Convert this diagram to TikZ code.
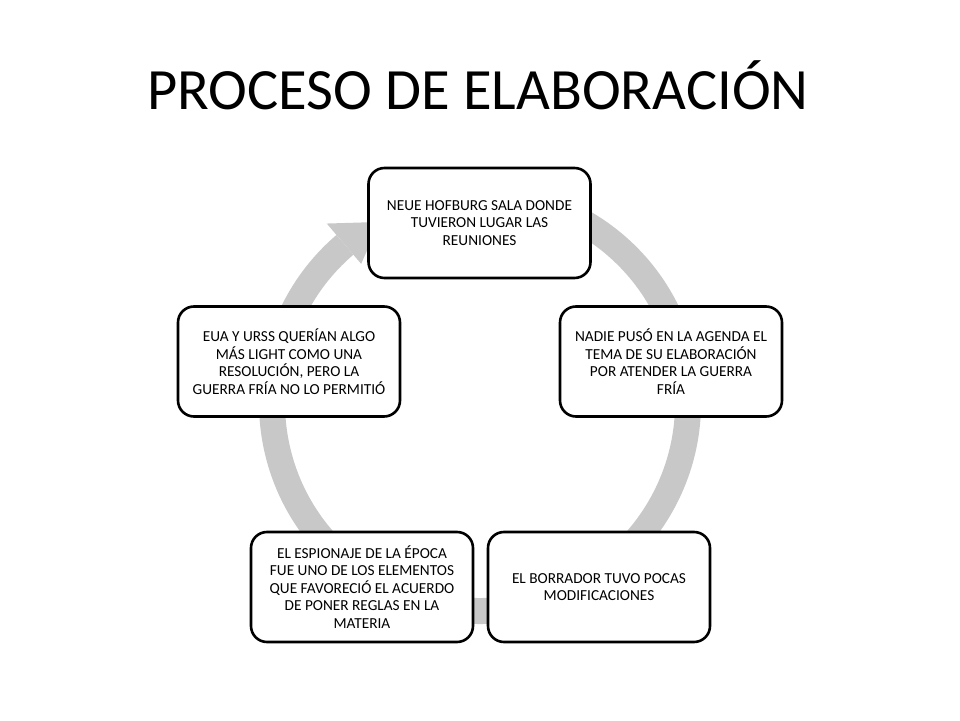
\documentclass[tikz,border=0pt]{standalone}
\usepackage{fontspec}
\setmainfont{Carlito}
\usetikzlibrary{calc}
\begin{document}
\begin{tikzpicture}[x=1pt,y=1pt,
  stepbox/.style={draw=black, line width=2.6pt, rounded corners=16pt, fill=white,
    minimum width=222pt, minimum height=110pt, inner sep=2pt, align=center,
    font=\fontsize{15.3}{17.5}\selectfont},
  ringline/.style={draw=ringgray, line width=26pt},
  ringhead/.style={fill=ringgray, draw=none}]
\definecolor{ringgray}{RGB}{200,200,200}
\useasboundingbox (0,0) rectangle (960,720);
\coordinate (c) at (480,317);
% ring
\draw[ringline] ($(c)+(100:208)$) arc[start angle=100, end angle=-229.5, radius=208];
\fill[ringhead] ($(c)+(130.5:236)$) -- ($(c)+(119:207)$) -- ($(c)+(130.5:183)$) -- cycle;
% title
\node[font=\fontsize{58.5}{62}\selectfont, anchor=base] (title) at (478,610) {PROCESO DE ELABORACIÓN};
% boxes
\node[stepbox] (b1) at (479.5,497) {NEUE HOFBURG SALA DONDE\\TUVIERON LUGAR LAS\\REUNIONES};
\node[stepbox] (b2) at (671,358.5) {NADIE PUSÓ EN LA AGENDA EL\\TEMA DE SU ELABORACIÓN\\POR ATENDER LA GUERRA\\FRÍA};
\node[stepbox] (b3) at (599,133) {EL BORRADOR TUVO POCAS\\MODIFICACIONES};
\node[stepbox] (b4) at (362,133) {EL ESPIONAJE DE LA ÉPOCA\\FUE UNO DE LOS ELEMENTOS\\QUE FAVORECIÓ EL ACUERDO\\DE PONER REGLAS EN LA\\MATERIA};
\node[stepbox] (b5) at (289,358.5) {EUA Y URSS QUERÍAN ALGO\\MÁS LIGHT COMO UNA\\RESOLUCIÓN, PERO LA\\GUERRA FRÍA NO LO PERMITIÓ};
\end{tikzpicture}
\end{document}
